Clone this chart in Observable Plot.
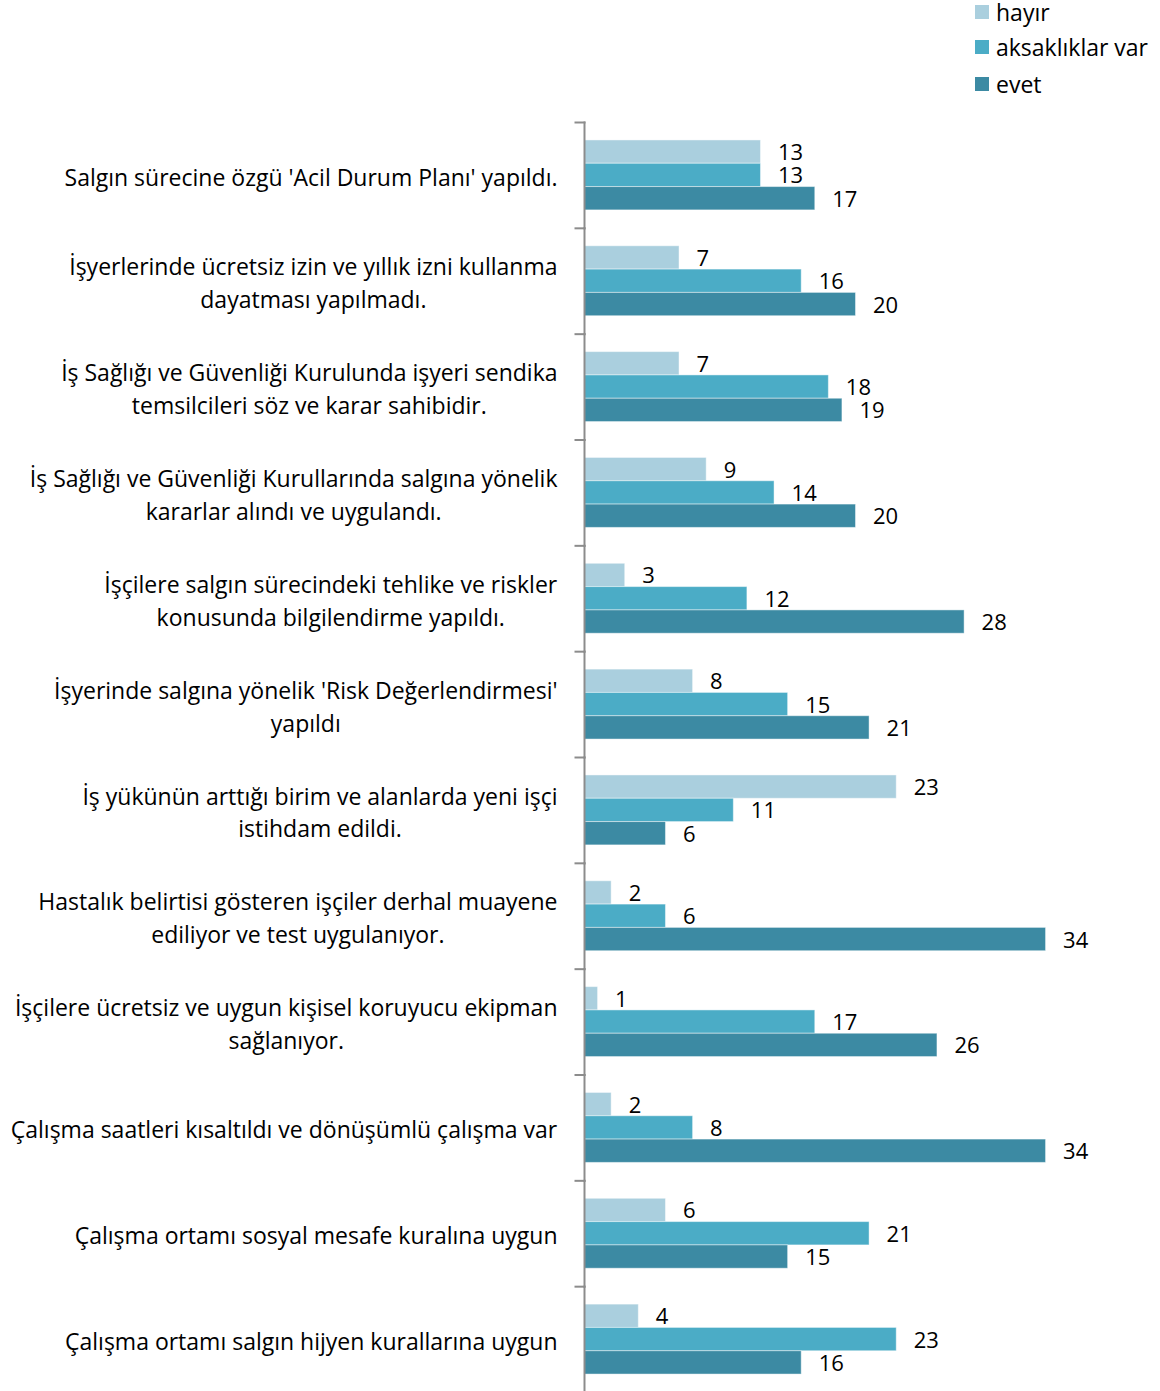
<!DOCTYPE html>
<html>
<head>
<meta charset="utf-8">
<script src="https://cdn.jsdelivr.net/npm/d3@7"></script>
<script src="https://cdn.jsdelivr.net/npm/@observablehq/plot@0.6"></script>
<style>
  html, body { margin: 0; padding: 0; background: #fff; }
  #wrap { position: relative; width: 1160px; height: 1391px; overflow: hidden; font-family: "Open Sans", Lato, sans-serif; }
  #legend { position: absolute; left: 975px; top: 0; font-size: 23px; color: #000; }
  #legend .row { position: absolute; left: 0; display: flex; align-items: center; white-space: nowrap; height: 26px; }
  #legend .sw { width: 14px; height: 14px; margin-right: 7px; }
  #chart { position: absolute; left: 0; top: 0; }
</style>
</head>
<body>
<div id="wrap">
  <div id="chart"></div>
  <div id="legend"></div>
</div>
<script>
const categories = [
  "Salgın sürecine özgü 'Acil Durum Planı' yapıldı.",
  "İşyerlerinde ücretsiz izin ve yıllık izni kullanma\ndayatması yapılmadı.",
  "İş Sağlığı ve Güvenliği Kurulunda işyeri sendika\ntemsilcileri söz ve karar sahibidir.",
  "İş Sağlığı ve Güvenliği Kurullarında salgına yönelik\nkararlar alındı ve uygulandı.",
  "İşçilere salgın sürecindeki tehlike ve riskler\nkonusunda bilgilendirme yapıldı.",
  "İşyerinde salgına yönelik 'Risk Değerlendirmesi'\nyapıldı",
  "İş yükünün arttığı birim ve alanlarda yeni işçi\nistihdam edildi.",
  "Hastalık belirtisi gösteren işçiler derhal muayene\nediliyor ve test uygulanıyor.",
  "İşçilere ücretsiz ve uygun kişisel koruyucu ekipman\nsağlanıyor.",
  "Çalışma saatleri kısaltıldı ve dönüşümlü çalışma var",
  "Çalışma ortamı sosyal mesafe kuralına uygun",
  "Çalışma ortamı salgın hijyen kurallarına uygun"
];
const seriesNames = ["hayır", "aksaklıklar var", "evet"];
const seriesColors = ["#AACFDE", "#4BACC6", "#3C8AA3"];
const hayir       = [13,  7,  7,  9,  3,  8, 23,  2,  1,  2,  6,  4];
const aksakliklar = [13, 16, 18, 14, 12, 15, 11,  6, 17,  8, 21, 23];
const evet        = [17, 20, 19, 20, 28, 21,  6, 34, 26, 34, 15, 16];

const seriesValues = [hayir, aksakliklar, evet];
const data = [];
categories.forEach((c, i) => {
  seriesNames.forEach((s, j) => data.push({category: c, series: s, value: seriesValues[j][i]}));
});

const W = 1160, H = 1392, ML = 584, MR = 33, MT = 122;
const FONT = 22, LABEL_FONT = 23;
const axisColor = "#8c8c8c";

const chart = Plot.plot({
  width: W,
  height: H,
  marginTop: MT,
  marginBottom: 0,
  marginLeft: ML,
  marginRight: MR,
  style: {fontFamily: "'Open Sans', Lato, sans-serif", fontSize: FONT + "px", color: "#000", background: "#fff"},
  x: {domain: [0, 40], axis: null},
  y: {domain: seriesNames, paddingInner: 0, paddingOuter: 0.77, round: false, axis: null},
  fy: {domain: categories, padding: 0, round: false},
  color: {domain: seriesNames, range: seriesColors},
  marks: [
    Plot.barX(data, {fy: "category", y: "series", x: "value", fill: "series", stroke: "#ffffff", strokeOpacity: 0.45, strokeWidth: 1}),
    Plot.text(data, {fy: "category", y: "series", x: "value", text: d => String(d.value), textAnchor: "start", dx: 17, dy: 1, fontSize: FONT, fill: "#000"}),
    Plot.frame({anchor: "left", stroke: axisColor, strokeWidth: 2}),
    Plot.frame({anchor: "top", stroke: axisColor, strokeWidth: 2, insetLeft: -9, insetRight: W - ML - MR}),
    Plot.axisFy({anchor: "left", tickSize: 0, tickPadding: 27, textAnchor: "middle", fontSize: LABEL_FONT, lineHeight: 1.43, label: null, fill: "#000"})
  ]
});

document.getElementById("chart").appendChild(chart);

// right-align each centred multi-line label block against the axis
chart.querySelectorAll('g[aria-label="fy-axis tick label"] text').forEach(t => {
  const w = t.getBBox().width;
  const tr = t.getAttribute("transform") || "";
  t.setAttribute("transform", tr + ` translate(${-w / 2},0)`);
});

// legend
const legend = document.getElementById("legend");
const rowCenters = [12, 47, 84];
seriesNames.forEach((s, i) => {
  const row = document.createElement("div");
  row.className = "row";
  row.style.top = (rowCenters[i] - 13) + "px";
  const sw = document.createElement("span");
  sw.className = "sw";
  sw.style.background = seriesColors[i];
  const lab = document.createElement("span");
  lab.textContent = s;
  row.appendChild(sw);
  row.appendChild(lab);
  legend.appendChild(row);
});
</script>
</body>
</html>
